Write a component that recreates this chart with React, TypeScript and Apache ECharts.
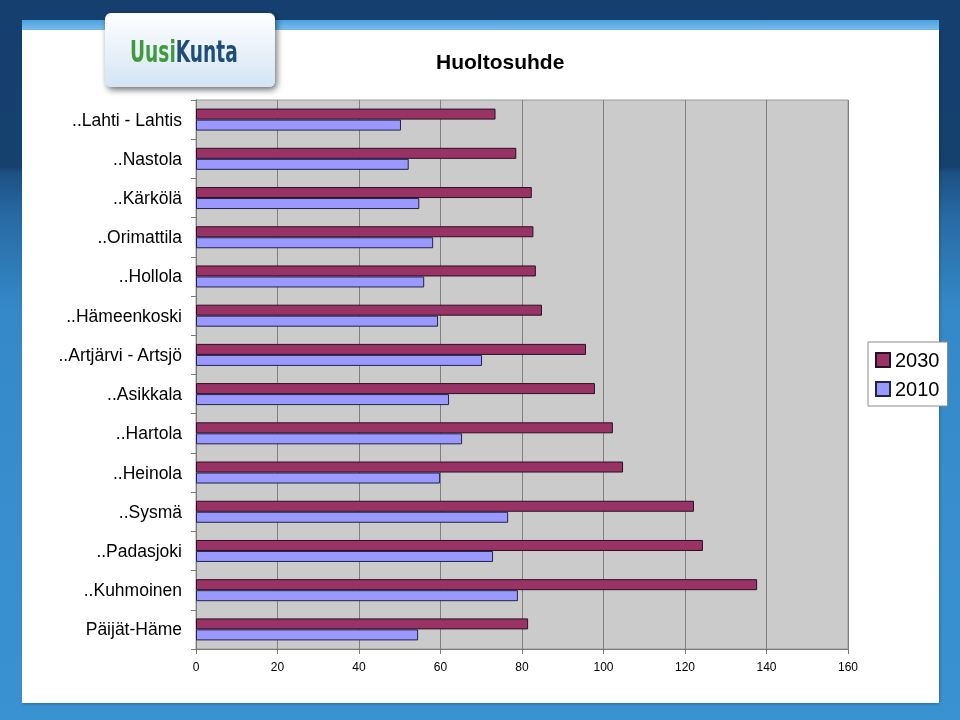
import React, { useEffect, useRef } from "react";
import * as echarts from "echarts";

const categories = [
  "..Lahti - Lahtis",
  "..Nastola",
  "..Kärkölä",
  "..Orimattila",
  "..Hollola",
  "..Hämeenkoski",
  "..Artjärvi - Artsjö",
  "..Asikkala",
  "..Hartola",
  "..Heinola",
  "..Sysmä",
  "..Padasjoki",
  "..Kuhmoinen",
  "Päijät-Häme",
];
const values2030 = [73.5, 78.6, 82.4, 82.8, 83.4, 84.9, 95.7, 97.9, 102.3, 104.8, 122.2, 124.4, 137.7, 81.5];
const values2010 = [50.3, 52.2, 54.8, 58.2, 56.0, 59.4, 70.2, 62.1, 65.3, 59.9, 76.6, 72.9, 79.0, 54.5];
const seriesNames = ["2030", "2010"];
const titleText = "Huoltosuhde";

const FONT = "'Liberation Sans', Arial, sans-serif";

export default function App() {
  const ref = useRef<HTMLDivElement>(null);
  useEffect(() => {
    if (!ref.current) return;
    const chart = echarts.init(ref.current, null, { renderer: "svg" });
    const option: any = {
      animation: false,
      backgroundColor: "transparent",
      graphic: [
        {
          type: "rect",
          z: -10,
          shape: { x: 0, y: 0, width: 960, height: 720 },
          style: {
            fill: new echarts.graphic.LinearGradient(0, 0, 0, 1, [
              { offset: 0, color: "#143f6e" },
              { offset: 0.232, color: "#15416f" },
              { offset: 0.24, color: "#1c5083" },
              { offset: 0.3, color: "#276aa5" },
              { offset: 0.43, color: "#3589c8" },
              { offset: 1, color: "#3a92d3" },
            ]),
          },
        },
        {
          type: "rect",
          z: -9,
          shape: { x: 22, y: 20, width: 917, height: 11 },
          style: {
            fill: new echarts.graphic.LinearGradient(0, 0, 0, 1, [
              { offset: 0, color: "#4d9fdc" },
              { offset: 1, color: "#7cc2f2" },
            ]),
          },
        },
        {
          type: "rect",
          z: -9,
          shape: { x: 22, y: 30, width: 917, height: 673 },
          style: { fill: "#ffffff", shadowBlur: 3, shadowColor: "rgba(0,0,0,0.25)", shadowOffsetX: 1, shadowOffsetY: 1 },
        },
        {
          type: "rect",
          z: 10,
          shape: { x: 105, y: 13, width: 170, height: 74, r: 6 },
          style: {
            fill: new echarts.graphic.LinearGradient(0, 0, 0, 1, [
              { offset: 0, color: "#ffffff" },
              { offset: 1, color: "#d3e4f4" },
            ]),
            shadowBlur: 6,
            shadowColor: "rgba(0,0,0,0.55)",
            shadowOffsetX: 2,
            shadowOffsetY: 3,
          },
        },
        {
          type: "text",
          z: 11,
          x: 130,
          y: 36,
          scaleX: 0.6,
          style: {
            text: "{g|Uusi}{b|Kunta}",
            rich: {
              g: { fill: "#3f9a3e", fontSize: 31, fontWeight: "bold", fontFamily: "'DejaVu Sans'" },
              b: { fill: "#1f4d7a", fontSize: 31, fontWeight: "bold", fontFamily: "'DejaVu Sans'" },
            },
          },
        },
      ],
      title: {
        text: titleText,
        left: 431,
        top: 46,
        textStyle: { fontFamily: FONT, fontSize: 21, fontWeight: "bold", color: "#000" },
      },
      legend: {
        orient: "vertical",
        left: 868,
        top: 342,
        data: seriesNames,
        backgroundColor: "#ffffff",
        borderColor: "#8a8a8a",
        borderWidth: 1,
        padding: [8, 8, 7, 7],
        itemWidth: 14,
        itemHeight: 14,
        itemGap: 9,
        icon: "rect",
        textStyle: { fontFamily: FONT, fontSize: 20, color: "#000" },
      },
      grid: {
        left: 196,
        right: 112,
        top: 100,
        bottom: 71,
        show: true,
        backgroundColor: "#cbcbcb",
        borderColor: "#9a9a9a",
        borderWidth: 1,
      },
      xAxis: {
        type: "value",
        min: 0,
        max: 160,
        interval: 20,
        axisLine: { show: true, lineStyle: { color: "#7a7a7a", width: 1 } },
        axisTick: { show: true, length: 5, lineStyle: { color: "#7a7a7a" } },
        axisLabel: { fontFamily: FONT, fontSize: 12, color: "#000", margin: 12 },
        splitLine: { show: true, lineStyle: { color: "#7f7f7f", width: 1 } },
      },
      yAxis: {
        type: "category",
        inverse: true,
        data: categories,
        axisLine: { show: true, lineStyle: { color: "#7a7a7a", width: 1 } },
        axisTick: { show: true, length: 5, lineStyle: { color: "#7a7a7a" } },
        axisLabel: { fontFamily: FONT, fontSize: 17.5, color: "#000", margin: 14 },
        splitLine: { show: false },
      },
      series: [
        {
          name: seriesNames[0],
          type: "bar",
          data: values2030,
          barWidth: 11,
          barGap: "0%",
          itemStyle: { color: "#993366", borderColor: "#2a1020", borderWidth: 1 },
        },
        {
          name: seriesNames[1],
          type: "bar",
          data: values2010,
          barWidth: 11,
          barGap: "0%",
          itemStyle: { color: "#9999ff", borderColor: "#22224a", borderWidth: 1 },
        },
      ],
    };
    chart.setOption(option);
    return () => chart.dispose();
  }, []);
  return (
    <div
      ref={ref}
      style={{ position: "fixed", left: 0, top: 0, width: 960, height: 720 }}
    />
  );
}
